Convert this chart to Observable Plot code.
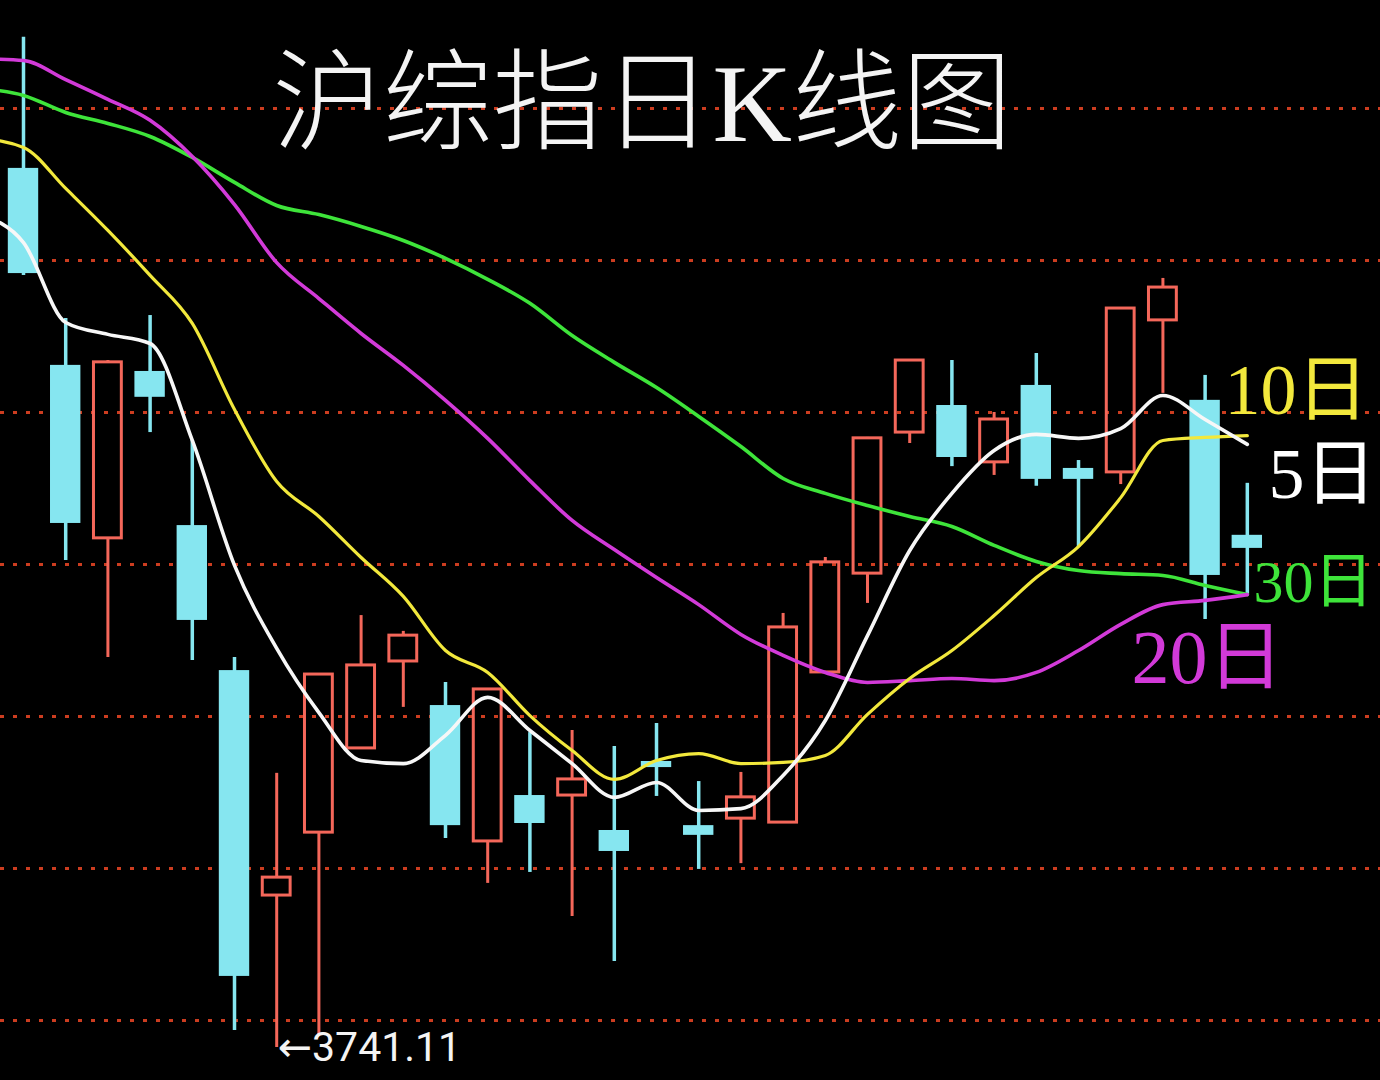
<!DOCTYPE html>
<html>
<head>
<meta charset="utf-8">
<script src="https://cdn.jsdelivr.net/npm/d3@7"></script>
<script src="https://cdn.jsdelivr.net/npm/@observablehq/plot@0.6"></script>
<style>
  html, body { margin: 0; padding: 0; background: #000; }
  #chart { width: 1380px; height: 1080px; overflow: hidden; }
</style>
</head>
<body>
<div id="chart"></div>
<script>
// ---- Data ----
const title = "沪综指日K线图";
const lowValue = 3741.11;
const lowDay = 6;

// daily candles, day 0 .. 29
const opens  = [4030.3, 3965.5, 3908.6, 3963.5, 3912.8, 3865.1, 3791.1, 3811.8, 3839.5, 3868.1,
                3853.6, 3808.9, 3824.0, 3824.0, 3812.5, 3835.2, 3814.1, 3816.4, 3815.1, 3864.5,
                3897.0, 3943.4, 3952.3, 3933.6, 3958.9, 3931.6, 3930.3, 3980.3, 3954.0, 3909.6];
const highs  = [4073.4, 3980.9, 3967.1, 3981.9, 3940.8, 3869.4, 3831.3, 3864.1, 3883.2, 3878.0,
                3861.2, 3859.2, 3844.7, 3845.4, 3840.1, 3847.7, 3828.6, 3831.6, 3883.9, 3902.3,
                3941.8, 3967.4, 3967.1, 3950.0, 3969.4, 3934.2, 3984.5, 3994.1, 3962.2, 3926.7];
const lows   = [3995.1, 3901.3, 3869.4, 3943.4, 3868.4, 3746.7, 3741.11, 3745.1, 3839.2, 3853.0,
                3809.9, 3795.1, 3798.7, 3784.2, 3769.4, 3823.7, 3799.7, 3801.6, 3814.8, 3864.1,
                3887.2, 3939.8, 3932.2, 3929.3, 3925.7, 3905.6, 3926.3, 3956.3, 3881.9, 3889.8];
const closes = [3995.7, 3913.5, 3966.5, 3955.0, 3881.6, 3764.5, 3797.0, 3863.8, 3866.8, 3876.6,
                3814.1, 3858.9, 3814.8, 3829.3, 3805.6, 3833.2, 3810.9, 3823.4, 3879.3, 3900.7,
                3941.5, 3967.1, 3935.2, 3947.7, 3928.0, 3928.0, 3984.2, 3991.1, 3896.4, 3905.3];

// moving averages, day -1 .. 29
const ma5  = [4014.8, 4005.9, 3979.6, 3975.7, 3972.7, 3940.8, 3899.7, 3872.4, 3851.3, 3835.5,
              3834.5, 3843.8, 3856.3, 3845.4, 3834.5, 3823.4, 3828.3, 3819.1, 3819.7, 3830.6,
              3848.7, 3876.6, 3904.6, 3923.4, 3937.5, 3942.8, 3941.5, 3944.7, 3955.6, 3947.7, 3939.5];
const ma10 = [4040.1, 4037.2, 4023.7, 4009.9, 3995.1, 3979.3, 3951.0, 3927.3, 3915.8, 3902.3,
              3889.5, 3871.7, 3864.5, 3850.3, 3838.8, 3829.3, 3835.5, 3837.8, 3834.5, 3834.9,
              3837.2, 3850.7, 3862.5, 3871.7, 3883.2, 3895.7, 3905.9, 3922.0, 3940.8, 3941.8, 3942.4];
const ma20 = [4066.4, 4065.8, 4059.5, 4053.0, 4046.1, 4034.2, 4018.4, 3999.3, 3987.5, 3976.0,
              3965.5, 3954.0, 3941.5, 3927.6, 3914.5, 3904.9, 3895.7, 3886.8, 3877.0, 3870.1,
              3864.5, 3861.2, 3861.8, 3862.5, 3861.8, 3864.5, 3871.7, 3880.3, 3886.8, 3888.2, 3890.1];
const ma30 = [4056.6, 4054.3, 4048.7, 4045.1, 4040.8, 4033.9, 4025.7, 4018.1, 4015.1, 4011.2,
              4006.6, 4000.7, 3993.8, 3985.9, 3975.3, 3966.5, 3958.2, 3948.7, 3938.8, 3928.3,
              3923.4, 3919.4, 3915.8, 3912.5, 3906.3, 3901.0, 3898.0, 3897.0, 3896.4, 3893.1, 3890.1];

const gridLevels = [3750, 3800, 3850, 3900, 3950, 4000, 4050];
const maLabels = ["5日", "10日", "20日", "30日"];

// ---- Build tables ----
const days = opens.map((o, i) => ({
  i, open: o, high: highs[i], low: lows[i], close: closes[i], up: closes[i] >= o
}));
const upDays = days.filter(d => d.up);
const downDays = days.filter(d => !d.up);
const maDays = d3.range(-1, 30);
const toRows = (arr) => arr.map((v, k) => ({ i: maDays[k], v }));

const RED = "#f4675a";
const CYAN = "#86e6f0";
const C5 = "#f7f7f7", C10 = "#f2e83c", C20 = "#d23ad8", C30 = "#3ee43a";
const GRID = "#cc3d20";

const cjk = "'Liberation Serif', 'Noto Sans CJK SC', serif";

const chart = Plot.plot({
  width: 1380,
  height: 1080,
  margin: 0,
  style: { background: "#000" },
  x: { type: "linear", domain: [-0.545, 32.156], axis: null },
  y: { domain: [3730.26, 4085.53], axis: null },
  marks: [
    // dotted red grid
    Plot.ruleY(gridLevels, { stroke: GRID, strokeWidth: 3, strokeDasharray: "4,9" }),
    // down (cyan) candles
    Plot.ruleX(downDays, { x: "i", y1: "low", y2: "high", stroke: CYAN, strokeWidth: 3.5 }),
    Plot.rect(downDays, { x1: d => d.i - 0.36, x2: d => d.i + 0.36, y1: "open", y2: "close", fill: CYAN }),
    // up (red hollow) candles
    Plot.ruleX(upDays, { x: "i", y1: "low", y2: "open", stroke: RED, strokeWidth: 3 }),
    Plot.ruleX(upDays, { x: "i", y1: "close", y2: "high", stroke: RED, strokeWidth: 3 }),
    Plot.rect(upDays, { x1: d => d.i - 0.33, x2: d => d.i + 0.33, y1: "open", y2: "close", fill: "none", stroke: RED, strokeWidth: 3 }),
    // moving averages
    Plot.line(toRows(ma30), { x: "i", y: "v", stroke: C30, strokeWidth: 3.6, curve: "monotone-x", clip: true }),
    Plot.line(toRows(ma20), { x: "i", y: "v", stroke: C20, strokeWidth: 3.6, curve: "monotone-x", clip: true }),
    Plot.line(toRows(ma10), { x: "i", y: "v", stroke: C10, strokeWidth: 3.2, curve: "monotone-x", clip: true }),
    Plot.line(toRows(ma5),  { x: "i", y: "v", stroke: C5,  strokeWidth: 3.6, curve: "monotone-x", clip: true }),
    // title
    Plot.text([title], { text: d => d, frameAnchor: "top-left", dx: 272, dy: 140, textAnchor: "start", lineAnchor: "bottom",
      fill: "#f4f4f4", fontSize: 110, fontWeight: 300, fontFamily: cjk }),
    // MA labels
    Plot.text([maLabels[1]], { text: d => d, frameAnchor: "top-left", dx: 1224, dy: 413, textAnchor: "start", lineAnchor: "bottom",
      fill: C10, fontSize: 72, fontFamily: cjk }),
    Plot.text([maLabels[0]], { text: d => d, frameAnchor: "top-left", dx: 1268, dy: 497, textAnchor: "start", lineAnchor: "bottom",
      fill: "#ffffff", fontSize: 72, fontFamily: cjk }),
    Plot.text([maLabels[3]], { text: d => d, frameAnchor: "top-left", dx: 1253, dy: 601, textAnchor: "start", lineAnchor: "bottom",
      fill: C30, fontSize: 60, fontFamily: cjk }),
    Plot.text([maLabels[2]], { text: d => d, frameAnchor: "top-left", dx: 1131, dy: 682, textAnchor: "start", lineAnchor: "bottom",
      fill: C20, fontSize: 76, fontFamily: cjk }),
    // low marker
    Plot.text([{ i: lowDay, v: lowValue }], { x: "i", y: "v", text: d => "←" + d.v.toFixed(2), dx: 1, textAnchor: "start",
      lineAnchor: "middle", fill: "#f4f4f4", fontSize: 41, fontFamily: "Roboto, 'DejaVu Sans', sans-serif" })
  ]
});
document.getElementById("chart").appendChild(chart);
</script>
</body>
</html>
